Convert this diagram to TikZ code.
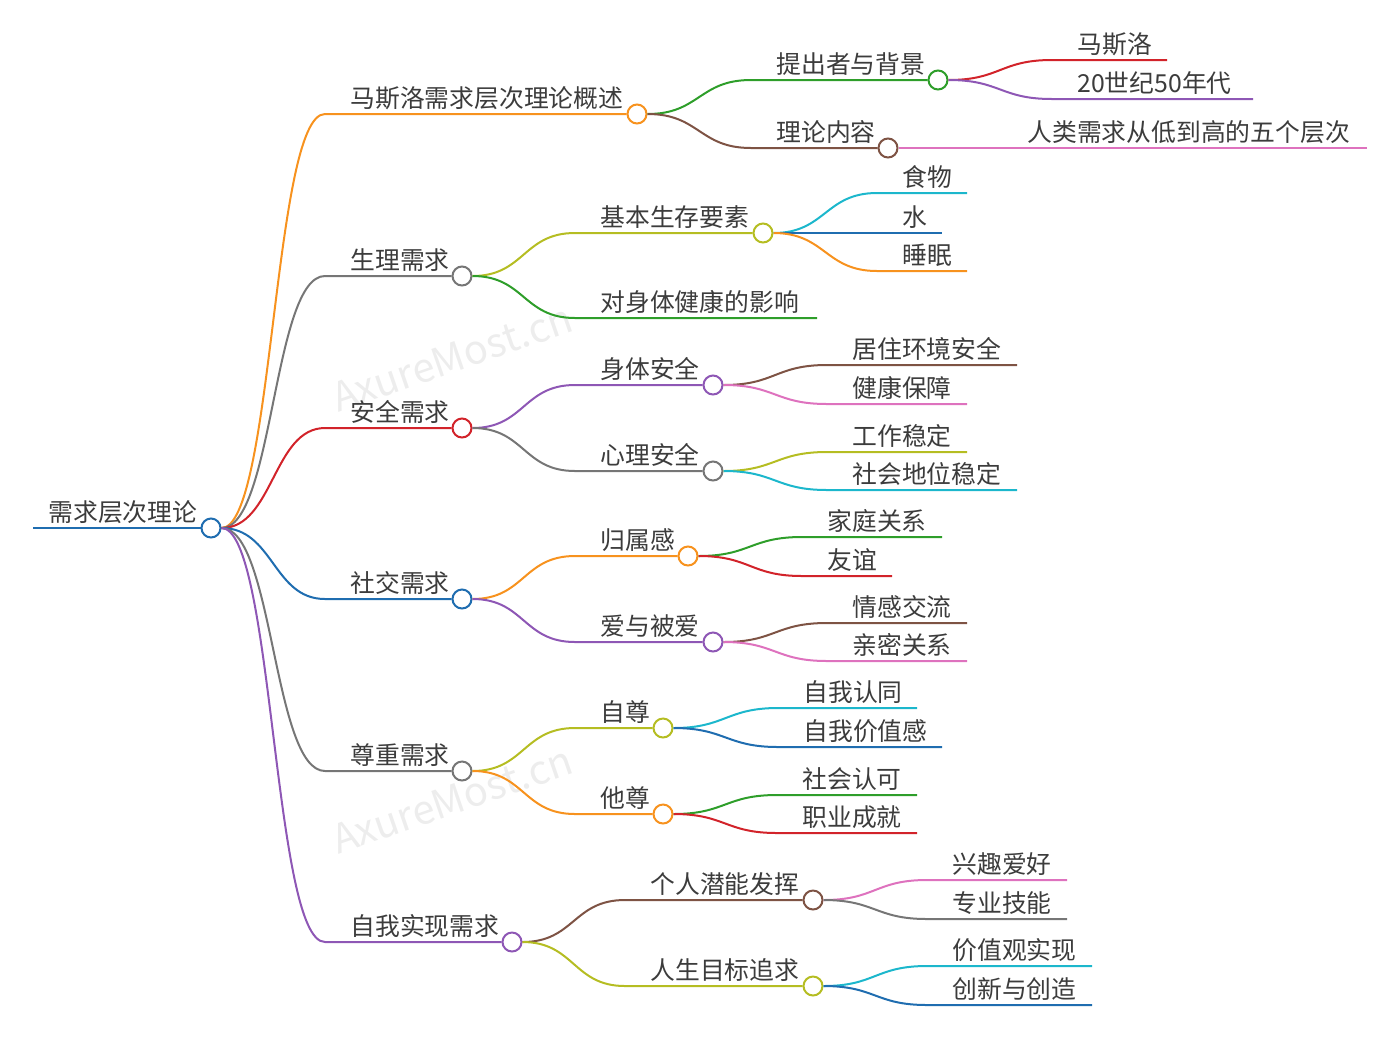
\documentclass[tikz,border=0pt]{standalone}
\usepackage{fontspec}
\setmainfont{Noto Sans CJK SC}
\definecolor{txt}{HTML}{3C3C3C}
\definecolor{corange}{HTML}{F7921E}
\definecolor{cgray}{HTML}{767676}
\definecolor{cred}{HTML}{D2232A}
\definecolor{cblue}{HTML}{1F6DB0}
\definecolor{cpurple}{HTML}{8E57B5}
\definecolor{cgreen}{HTML}{2E9E2A}
\definecolor{cbrown}{HTML}{7E5344}
\definecolor{colive}{HTML}{B5BD22}
\definecolor{cpink}{HTML}{DE72BE}
\definecolor{ccyan}{HTML}{1CB7CC}
\tikzset{
  lbl/.style={anchor=base west, inner sep=0pt, text=txt, font=\fontsize{12.4}{15}\selectfont},
  dot/.style={circle, draw=#1, fill=white, line width=1pt, minimum size=9.5pt, inner sep=0pt},
  edge/.style={draw=#1, line width=1pt},
  wm/.style={text=black!7, font=\fontsize{20}{24}\selectfont, rotate=19, inner sep=0pt}
}
% parent, name, colour, text x, y, circle x, text, control distance
\newcommand\mmmid[8]{%
  \node[lbl] (#2) at (#4,#5-7) {#7};
  \coordinate (#2b) at (#4-25,#5);
  \node[dot=#3] (#2c) at (#6,#5) {};
  \draw[edge=#3] (#1.east) .. controls +(#8,0) and +(-#8,0) .. (#2b) -- (#2c.west);
}
% parent, name, colour, text x, y, end x, text, control distance
\newcommand\mmleaf[8]{%
  \node[lbl] (#2) at (#4,#5-7) {#7};
  \coordinate (#2b) at (#4-25,#5);
  \coordinate (#2e) at (#6,#5);
  \draw[edge=#3] (#1.east) .. controls +(#8,0) and +(-#8,0) .. (#2b) -- (#2e);
}
\begin{document}
\begin{tikzpicture}[x=0.5pt,y=-0.5pt]
\useasboundingbox (0,0) rectangle (1400,1045);
% watermarks
\node[wm] (wm1) at (452,358) {AxureMost.cn};
\node[wm] (wm2) at (452,800) {AxureMost.cn};
% root
\node[lbl] (root) at (48,521) {需求层次理论};
\coordinate (rootL) at (33,528);
\node[dot=cblue] (rootc) at (211,528) {};
\draw[edge=cblue] (rootL) -- (rootc.west);
% level 1
\mmmid{rootc}{a}{corange}{350}{114}{637}{马斯洛需求层次理论概述}{52}
\mmmid{rootc}{b}{cgray}{350}{276}{462}{生理需求}{52}
\mmmid{rootc}{c}{cred}{350}{428}{462}{安全需求}{52}
\mmmid{rootc}{d}{cblue}{350}{599}{462}{社交需求}{52}
\mmmid{rootc}{e}{cgray}{350}{771}{462}{尊重需求}{52}
\mmmid{rootc}{f}{cpurple}{350}{942}{512}{自我实现需求}{52}
% level 2
\mmmid{ac}{aa}{cgreen}{776}{80}{938}{提出者与背景}{52}
\mmmid{ac}{ab}{cbrown}{776}{148}{888}{理论内容}{52}
\mmmid{bc}{ba}{colive}{600}{233}{763}{基本生存要素}{52}
\mmleaf{bc}{Lbb}{cgreen}{600}{318}{817}{对身体健康的影响}{52}
\mmmid{cc}{ca}{cpurple}{600}{385}{713}{身体安全}{52}
\mmmid{cc}{cb}{cgray}{600}{471}{713}{心理安全}{52}
\mmmid{dc}{da}{corange}{600}{556}{688}{归属感}{52}
\mmmid{dc}{db}{cpurple}{600}{642}{713}{爱与被爱}{52}
\mmmid{ec}{ea}{colive}{600}{728}{663}{自尊}{52}
\mmmid{ec}{eb}{corange}{600}{814}{663}{他尊}{52}
\mmmid{fc}{fa}{cbrown}{650}{900}{813}{个人潜能发挥}{52}
\mmmid{fc}{fb}{colive}{650}{986}{813}{人生目标追求}{52}
% leaves
\mmleaf{aac}{Laa1}{cred}{1077}{60}{1167}{马斯洛}{52}
\mmleaf{aac}{Laa2}{cpurple}{1077}{99}{1253}{20世纪50年代}{52}
\mmleaf{abc}{Lab1}{cpink}{1027}{148}{1367}{人类需求从低到高的五个层次}{52}
\mmleaf{bac}{Lba1}{ccyan}{902}{193}{967}{食物}{52}
\mmleaf{bac}{Lba2}{cblue}{902}{233}{942}{水}{52}
\mmleaf{bac}{Lba3}{corange}{902}{271}{967}{睡眠}{52}
\mmleaf{cac}{Lca1}{cbrown}{852}{365}{1017}{居住环境安全}{52}
\mmleaf{cac}{Lca2}{cpink}{852}{404}{967}{健康保障}{52}
\mmleaf{cbc}{Lcb1}{colive}{852}{452}{967}{工作稳定}{52}
\mmleaf{cbc}{Lcb2}{ccyan}{852}{490}{1017}{社会地位稳定}{52}
\mmleaf{dac}{Lda1}{cgreen}{827}{537}{942}{家庭关系}{52}
\mmleaf{dac}{Lda2}{cred}{827}{576}{892}{友谊}{52}
\mmleaf{dbc}{Ldb1}{cbrown}{852}{623}{967}{情感交流}{52}
\mmleaf{dbc}{Ldb2}{cpink}{852}{661}{967}{亲密关系}{52}
\mmleaf{eac}{Lea1}{ccyan}{803}{708}{917}{自我认同}{52}
\mmleaf{eac}{Lea2}{cblue}{803}{747}{942}{自我价值感}{52}
\mmleaf{ebc}{Leb1}{cgreen}{802}{795}{917}{社会认可}{52}
\mmleaf{ebc}{Leb2}{cred}{802}{833}{917}{职业成就}{52}
\mmleaf{fac}{Lfa1}{cpink}{952}{880}{1067}{兴趣爱好}{52}
\mmleaf{fac}{Lfa2}{cgray}{952}{919}{1067}{专业技能}{52}
\mmleaf{fbc}{Lfb1}{ccyan}{952}{966}{1092}{价值观实现}{52}
\mmleaf{fbc}{Lfb2}{cblue}{952}{1005}{1092}{创新与创造}{52}
\end{tikzpicture}
\end{document}
